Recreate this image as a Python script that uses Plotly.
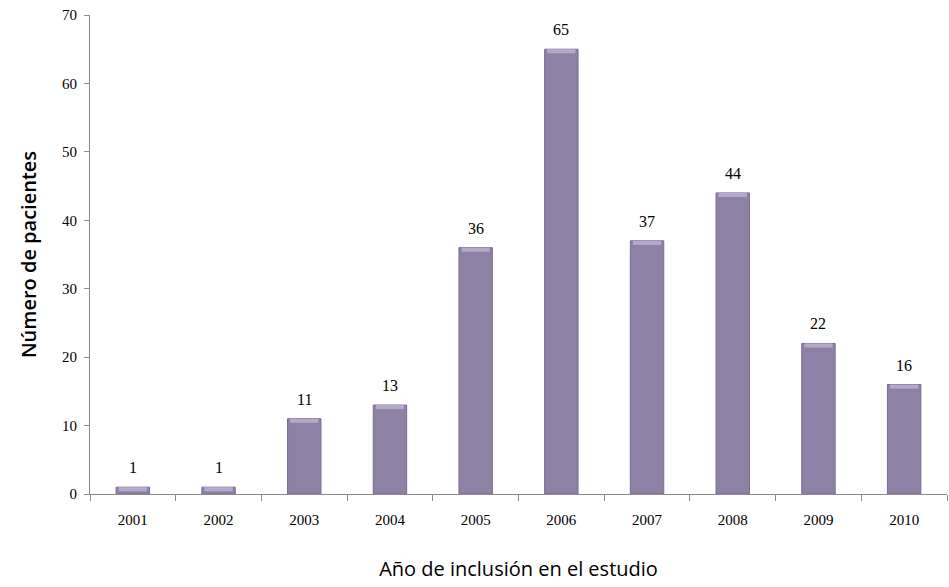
import plotly.graph_objects as go

years = ["2001", "2002", "2003", "2004", "2005", "2006", "2007", "2008", "2009", "2010"]
patients = [1, 1, 11, 13, 36, 65, 37, 44, 22, 16]
y_ticks = [0, 10, 20, 30, 40, 50, 60, 70]

BEVEL = 0.6  # height of the light cap drawn on top of each bar (data units)

fig = go.Figure()
fig.add_trace(go.Bar(
    x=years,
    y=patients,
    width=0.39,
    marker=dict(color="#8e81a6", line=dict(color="#7a6d92", width=1)),
    cliponaxis=False,
    hoverinfo="x+y",
))
# light cap at the top of every bar
fig.add_trace(go.Bar(
    x=years,
    y=[BEVEL] * len(patients),
    base=[v - BEVEL for v in patients],
    width=0.33,
    marker=dict(color="#b4a8cb", line=dict(width=0)),
    hoverinfo="skip",
))

# value labels sitting a little above each bar (category index as x)
for i, v in enumerate(patients):
    fig.add_annotation(
        x=i, y=v, text=str(v), showarrow=False,
        xref="x", yref="y",
        yanchor="bottom", yshift=9,
        font=dict(family="Liberation Serif", size=16, color="#000"),
    )

fig.update_layout(
    width=949,
    height=587,
    margin=dict(l=90, r=2, t=15, b=93),
    paper_bgcolor="white",
    plot_bgcolor="white",
    showlegend=False,
    barmode="overlay",
)
fig.update_xaxes(
    type="category",
    categoryorder="array", categoryarray=years,
    range=[-0.5, len(years) - 0.5],
    showline=True, linecolor="#8a8a8a", linewidth=1,
    ticks="outside", tickson="boundaries", ticklen=6, tickcolor="#8a8a8a",
    ticklabelstandoff=12,
    tickfont=dict(family="Liberation Serif", size=15, color="#000"),
    title=dict(text="Año de inclusión en el estudio",
               font=dict(family="Open Sans", size=20, color="#000"), standoff=34),
    showgrid=False,
)
fig.update_yaxes(
    range=[0, 70], tickvals=y_ticks,
    showline=True, linecolor="#8a8a8a", linewidth=1,
    ticks="outside", ticklen=5, tickcolor="#8a8a8a",
    ticklabelstandoff=4,
    tickfont=dict(family="Liberation Serif", size=15, color="#000"),
    title=dict(text="Número de pacientes",
               font=dict(family="Open Sans", size=20, color="#000", weight=600), standoff=20),
    showgrid=False, zeroline=False,
)

fig.write_html("out.html")
